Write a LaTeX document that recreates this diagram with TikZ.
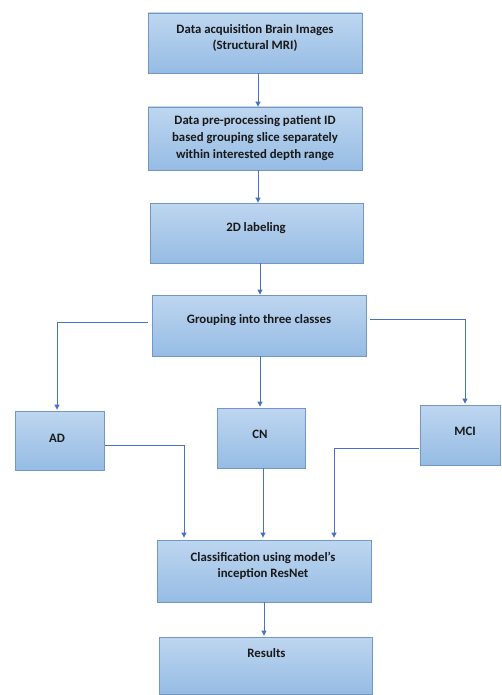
\documentclass[tikz,border=0pt]{standalone}
\usepackage{fontspec}
\setmainfont{Carlito}
\usetikzlibrary{arrows.meta}
\definecolor{boxtop}{RGB}{190,214,240}
\definecolor{boxbot}{RGB}{150,188,228}
\definecolor{boxline}{RGB}{115,150,195}
\definecolor{arrcol}{RGB}{72,114,190}
\tikzset{
  box/.style={rectangle, draw=boxline, line width=0.8pt, top color=boxtop, bottom color=boxbot, inner sep=0pt},
  txt/.style={font=\fontsize{12.8}{16}\selectfont\bfseries, align=center, inner sep=0pt, text=black!90},
  arr/.style={draw=arrcol, line width=0.9pt, -{Triangle[width=5pt,length=5pt]}}
}
\begin{document}
\begin{tikzpicture}[x=1pt,y=-1pt]
\useasboundingbox (0,0) rectangle (501,695);
% boxes
\node[box, minimum width=214pt, minimum height=60pt] (b1) at (255,43) {};
\node[box, minimum width=214pt, minimum height=63pt] (b2) at (255,138.5) {};
\node[box, minimum width=213pt, minimum height=60pt] (b3) at (256.5,233) {};
\node[box, minimum width=214pt, minimum height=61pt] (b4) at (259,325.5) {};
\node[box, minimum width=89pt, minimum height=59pt] (ad) at (59.5,440.5) {};
\node[box, minimum width=88pt, minimum height=60pt] (cn) at (261,438) {};
\node[box, minimum width=80pt, minimum height=60pt] (mci) at (460,435) {};
\node[box, minimum width=214pt, minimum height=62pt] (b5) at (264,571) {};
\node[box, minimum width=213pt, minimum height=57pt] (res) at (265.5,665.5) {};
% texts
\node[txt] (t1) at (255,38) {Data acquisition Brain Images\\(Structural MRI)};
\node[txt, font=\fontsize{12.8}{17}\selectfont\bfseries] (t2) at (255,138) {Data pre-processing patient ID\\based grouping slice separately\\within interested depth range};
\node[txt] (t3) at (256,228) {2D labeling};
\node[txt] (t4) at (259,320) {Grouping into three classes};
\node[txt] (tad) at (57,438) {AD};
\node[txt] (tcn) at (260,434) {CN};
\node[txt] (tmci) at (465,431) {MCI};
\node[txt] (t5) at (263,565.5) {Classification using model’s\\inception ResNet};
\node[txt] (tres) at (266.5,653) {Results};
% arrows
\draw[arr] ([xshift=3pt]b1.south) -- ([xshift=3pt]b2.north);
\draw[arr] ([xshift=3pt]b2.south) -- ([xshift=1.5pt]b3.north);
\draw[arr] ([xshift=3.5pt]b3.south) -- ([xshift=1pt]b4.north);
\draw[arr] ([xshift=-4pt,yshift=3.5pt]b4.west) -| ([xshift=-2.5pt,yshift=1pt]ad.north);
\draw[arr] ([xshift=1pt]b4.south) -- ([xshift=-1pt,yshift=1pt]cn.north);
\draw[arr] ([xshift=4pt,yshift=6.5pt]b4.east) -| ([xshift=5pt,yshift=1pt]mci.north);
\draw[arr] ([xshift=1pt,yshift=-4.5pt]ad.east) -| ([xshift=-80pt,yshift=2pt]b5.north);
\draw[arr] ([xshift=2pt]cn.south) -- ([xshift=-1pt,yshift=2pt]b5.north);
\draw[arr] ([xshift=-1pt,yshift=-13pt]mci.west) -| ([xshift=70pt,yshift=2pt]b5.north);
\draw[arr] (b5.south) -- ([xshift=-1.5pt,yshift=1pt]res.north);
\end{tikzpicture}
\end{document}
